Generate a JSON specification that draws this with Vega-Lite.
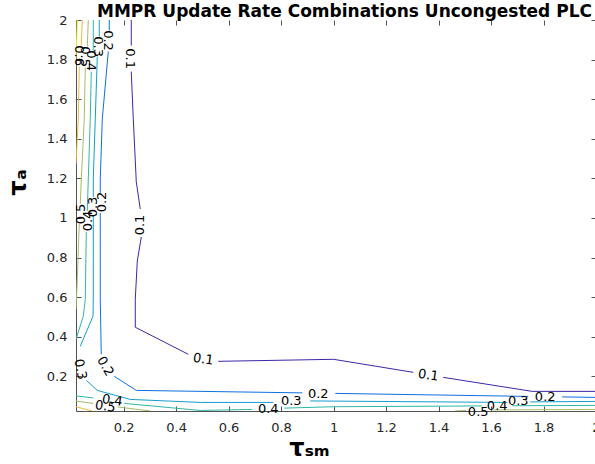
{
  "$schema": "https://vega.github.io/schema/vega-lite/v6.json",
  "width": 520,
  "height": 391,
  "autosize": {"type": "none"},
  "padding": {"left": 76, "top": 20, "right": 0, "bottom": 53},
  "background": "white",
  "view": {"stroke": null},
  "config": {
    "axis": {
      "domainColor": "#262626",
      "tickColor": "#262626",
      "labelColor": "#262626",
      "labelFont": "DejaVu Sans",
      "labelFontSize": 13,
      "grid": false,
      "domainWidth": 0.8,
      "tickWidth": 0.8,
      "labelFlush": false,
      "labelOverlap": false,
      "labelBound": false
    }
  },
  "datasets": {
    "lines": [
      {"s": "1a", "lev": "0.1", "o": 1, "x": 0.2293, "y": 2.0},
      {"s": "1a", "lev": "0.1", "o": 2, "x": 0.2293, "y": 1.8709},
      {"s": "1b", "lev": "0.1", "o": 1, "x": 0.2293, "y": 1.7392},
      {"s": "1b", "lev": "0.1", "o": 2, "x": 0.2370, "y": 1.5013},
      {"s": "1b", "lev": "0.1", "o": 3, "x": 0.2484, "y": 1.1823},
      {"s": "1b", "lev": "0.1", "o": 4, "x": 0.2636, "y": 1.0456},
      {"s": "1c", "lev": "0.1", "o": 1, "x": 0.2674, "y": 0.9038},
      {"s": "1c", "lev": "0.1", "o": 2, "x": 0.2522, "y": 0.7823},
      {"s": "1c", "lev": "0.1", "o": 3, "x": 0.2446, "y": 0.5899},
      {"s": "1c", "lev": "0.1", "o": 4, "x": 0.2446, "y": 0.4481},
      {"s": "1c", "lev": "0.1", "o": 5, "x": 0.4465, "y": 0.3114},
      {"s": "1d", "lev": "0.1", "o": 1, "x": 0.5608, "y": 0.2759},
      {"s": "1d", "lev": "0.1", "o": 2, "x": 1.0, "y": 0.2861},
      {"s": "1d", "lev": "0.1", "o": 3, "x": 1.3036, "y": 0.2203},
      {"s": "1e", "lev": "0.1", "o": 1, "x": 1.4179, "y": 0.1949},
      {"s": "1e", "lev": "0.1", "o": 2, "x": 1.757, "y": 0.1241},
      {"s": "1e", "lev": "0.1", "o": 3, "x": 2.0, "y": 0.1241},
      {"s": "2a", "lev": "0.2", "o": 1, "x": 0.1455, "y": 2.0},
      {"s": "2a", "lev": "0.2", "o": 2, "x": 0.1455, "y": 1.9468},
      {"s": "2b", "lev": "0.2", "o": 1, "x": 0.1417, "y": 1.8405},
      {"s": "2b", "lev": "0.2", "o": 2, "x": 0.1189, "y": 1.5013},
      {"s": "2b", "lev": "0.2", "o": 3, "x": 0.1112, "y": 1.1975},
      {"s": "2b", "lev": "0.2", "o": 4, "x": 0.1112, "y": 1.1266},
      {"s": "2c", "lev": "0.2", "o": 1, "x": 0.1112, "y": 1.0253},
      {"s": "2c", "lev": "0.2", "o": 2, "x": 0.1112, "y": 0.5899},
      {"s": "2c", "lev": "0.2", "o": 3, "x": 0.115, "y": 0.3114},
      {"s": "2d", "lev": "0.2", "o": 1, "x": 0.1646, "y": 0.2},
      {"s": "2d", "lev": "0.2", "o": 2, "x": 0.2484, "y": 0.1291},
      {"s": "2d", "lev": "0.2", "o": 3, "x": 0.8808, "y": 0.1165},
      {"s": "2e", "lev": "0.2", "o": 1, "x": 1.0065, "y": 0.1139},
      {"s": "2e", "lev": "0.2", "o": 2, "x": 1.7418, "y": 0.0987},
      {"s": "2f", "lev": "0.2", "o": 1, "x": 1.8712, "y": 0.0962},
      {"s": "2f", "lev": "0.2", "o": 2, "x": 2.0, "y": 0.0937},
      {"s": "3a", "lev": "0.3", "o": 1, "x": 0.1074, "y": 2.0},
      {"s": "3a", "lev": "0.3", "o": 2, "x": 0.1074, "y": 1.9165},
      {"s": "3b", "lev": "0.3", "o": 1, "x": 0.0998, "y": 1.8152},
      {"s": "3b", "lev": "0.3", "o": 2, "x": 0.0922, "y": 1.5013},
      {"s": "3b", "lev": "0.3", "o": 3, "x": 0.0846, "y": 1.1975},
      {"s": "3b", "lev": "0.3", "o": 4, "x": 0.0846, "y": 1.1063},
      {"s": "3c", "lev": "0.3", "o": 1, "x": 0.0846, "y": 1.0101},
      {"s": "3c", "lev": "0.3", "o": 2, "x": 0.0846, "y": 0.5899},
      {"s": "3c", "lev": "0.3", "o": 3, "x": 0.0834, "y": 0.5038},
      {"s": "3c", "lev": "0.3", "o": 4, "x": 0.035, "y": 0.3519},
      {"s": "3d", "lev": "0.3", "o": 1, "x": 0.0579, "y": 0.1797},
      {"s": "3d", "lev": "0.3", "o": 2, "x": 0.0998, "y": 0.1291},
      {"s": "3d", "lev": "0.3", "o": 3, "x": 0.2255, "y": 0.0835},
      {"s": "3d", "lev": "0.3", "o": 4, "x": 0.4922, "y": 0.0684},
      {"s": "3d", "lev": "0.3", "o": 5, "x": 0.7703, "y": 0.0684},
      {"s": "3e", "lev": "0.3", "o": 1, "x": 0.9112, "y": 0.0759},
      {"s": "3e", "lev": "0.3", "o": 2, "x": 1.6617, "y": 0.0684},
      {"s": "3f", "lev": "0.3", "o": 1, "x": 1.7494, "y": 0.0709},
      {"s": "3f", "lev": "0.3", "o": 2, "x": 2.0, "y": 0.0734},
      {"s": "4a", "lev": "0.4", "o": 1, "x": 0.0846, "y": 2.0},
      {"s": "4a", "lev": "0.4", "o": 2, "x": 0.0846, "y": 1.8456},
      {"s": "4b", "lev": "0.4", "o": 1, "x": 0.077, "y": 1.7392},
      {"s": "4b", "lev": "0.4", "o": 2, "x": 0.0731, "y": 1.5013},
      {"s": "4b", "lev": "0.4", "o": 3, "x": 0.0655, "y": 1.1975},
      {"s": "4b", "lev": "0.4", "o": 4, "x": 0.0617, "y": 1.0354},
      {"s": "4c", "lev": "0.4", "o": 1, "x": 0.0579, "y": 0.9291},
      {"s": "4c", "lev": "0.4", "o": 2, "x": 0.0541, "y": 0.5899},
      {"s": "4c", "lev": "0.4", "o": 3, "x": 0.0465, "y": 0.5038},
      {"s": "4c", "lev": "0.4", "o": 4, "x": 0.0187, "y": 0.3873},
      {"s": "4d", "lev": "0.4", "o": 1, "x": 0.0187, "y": 0.1013},
      {"s": "4d", "lev": "0.4", "o": 2, "x": 0.0846, "y": 0.0911},
      {"s": "4e", "lev": "0.4", "o": 1, "x": 0.2027, "y": 0.0633},
      {"s": "4e", "lev": "0.4", "o": 2, "x": 0.4922, "y": 0.0278},
      {"s": "4e", "lev": "0.4", "o": 3, "x": 0.6903, "y": 0.0329},
      {"s": "4f", "lev": "0.4", "o": 1, "x": 0.8122, "y": 0.0395},
      {"s": "4f", "lev": "0.4", "o": 2, "x": 1.0, "y": 0.0466},
      {"s": "4f", "lev": "0.4", "o": 3, "x": 1.5665, "y": 0.0506},
      {"s": "4g", "lev": "0.4", "o": 1, "x": 1.6808, "y": 0.0516},
      {"s": "4g", "lev": "0.4", "o": 2, "x": 2.0, "y": 0.0532},
      {"s": "5a", "lev": "0.5", "o": 1, "x": 0.0655, "y": 2.0},
      {"s": "5a", "lev": "0.5", "o": 2, "x": 0.0617, "y": 1.8658},
      {"s": "5b", "lev": "0.5", "o": 1, "x": 0.0541, "y": 1.7595},
      {"s": "5b", "lev": "0.5", "o": 2, "x": 0.0503, "y": 1.5013},
      {"s": "5b", "lev": "0.5", "o": 3, "x": 0.0389, "y": 1.1975},
      {"s": "5b", "lev": "0.5", "o": 4, "x": 0.035, "y": 1.0709},
      {"s": "5c", "lev": "0.5", "o": 1, "x": 0.0312, "y": 0.9696},
      {"s": "5c", "lev": "0.5", "o": 2, "x": 0.0236, "y": 0.6911},
      {"s": "5c", "lev": "0.5", "o": 3, "x": 0.0187, "y": 0.5392},
      {"s": "5d", "lev": "0.5", "o": 1, "x": 0.0187, "y": 0.0749},
      {"s": "5d", "lev": "0.5", "o": 2, "x": 0.0846, "y": 0.0633},
      {"s": "5e", "lev": "0.5", "o": 1, "x": 0.176, "y": 0.0456},
      {"s": "5e", "lev": "0.5", "o": 2, "x": 0.3017, "y": 0.0253},
      {"s": "5f", "lev": "0.5", "o": 1, "x": 1.4636, "y": 0.0253},
      {"s": "5f", "lev": "0.5", "o": 2, "x": 1.5055, "y": 0.0278},
      {"s": "5g", "lev": "0.5", "o": 1, "x": 1.597, "y": 0.0304},
      {"s": "5g", "lev": "0.5", "o": 2, "x": 2.0, "y": 0.0329},
      {"s": "6a", "lev": "0.6", "o": 1, "x": 0.0427, "y": 2.0},
      {"s": "6a", "lev": "0.6", "o": 2, "x": 0.0389, "y": 1.8709},
      {"s": "6b", "lev": "0.6", "o": 1, "x": 0.0312, "y": 1.7646},
      {"s": "6b", "lev": "0.6", "o": 2, "x": 0.0274, "y": 1.5013},
      {"s": "6b", "lev": "0.6", "o": 3, "x": 0.0187, "y": 1.2734},
      {"s": "6c", "lev": "0.6", "o": 1, "x": 0.0187, "y": 0.0466},
      {"s": "6c", "lev": "0.6", "o": 2, "x": 0.0796, "y": 0.0253},
      {"s": "7a", "lev": "0.7", "o": 1, "x": 0.0236, "y": 2.0},
      {"s": "7a", "lev": "0.7", "o": 2, "x": 0.0187, "y": 1.8051}
    ],
    "labels": [
      {"g": "up", "lev": "0.1", "x": 0.2255, "y": 1.8051},
      {"g": "up", "lev": "0.2", "x": 0.1417, "y": 1.8962},
      {"g": "up", "lev": "0.3", "x": 0.1036, "y": 1.8658},
      {"g": "up", "lev": "0.4", "x": 0.077, "y": 1.7949},
      {"g": "up", "lev": "0.5", "x": 0.0541, "y": 1.8152},
      {"g": "up", "lev": "0.6", "x": 0.0312, "y": 1.8203},
      {"g": "mid", "lev": "0.1", "x": 0.2636, "y": 0.9646},
      {"g": "mid", "lev": "0.2", "x": 0.1189, "y": 1.081},
      {"g": "mid", "lev": "0.3", "x": 0.0846, "y": 1.0557},
      {"g": "mid", "lev": "0.4", "x": 0.0655, "y": 0.9848},
      {"g": "mid", "lev": "0.5", "x": 0.0389, "y": 1.0203},
      {"g": "b60", "lev": "0.2", "x": 0.1303, "y": 0.2506},
      {"g": "b78", "lev": "0.3", "x": 0.035, "y": 0.2354},
      {"g": "tilt", "lev": "0.1", "x": 0.5036, "y": 0.2861},
      {"g": "tilt", "lev": "0.1", "x": 1.3608, "y": 0.2051},
      {"g": "tilt", "lev": "0.4", "x": 0.157, "y": 0.0785},
      {"g": "tilt", "lev": "0.5", "x": 0.1303, "y": 0.0481},
      {"g": "flat", "lev": "0.2", "x": 0.9417, "y": 0.1089},
      {"g": "flat", "lev": "0.2", "x": 1.8065, "y": 0.0937},
      {"g": "flat", "lev": "0.3", "x": 0.8389, "y": 0.0734},
      {"g": "flat", "lev": "0.3", "x": 1.7037, "y": 0.0734},
      {"g": "flat", "lev": "0.4", "x": 0.7512, "y": 0.0329},
      {"g": "flat", "lev": "0.4", "x": 1.6236, "y": 0.0481},
      {"g": "flat", "lev": "0.5", "x": 1.5512, "y": 0.0177}
    ]
  },
  "resolve": {"axis": {"x": "independent", "y": "independent"}},
  "layer": [
    {
      "data": {"name": "lines"},
      "mark": {"type": "line", "strokeWidth": 1, "clip": true},
      "encoding": {
        "x": {
          "field": "x", "type": "quantitative",
          "scale": {"domain": [0.0187, 2], "nice": false, "zero": false},
          "axis": {
            "orient": "bottom",
            "values": [0.2, 0.4, 0.6, 0.8, 1, 1.2, 1.4, 1.6, 1.8, 2],
            "format": "~g",
            "tickSize": -5,
            "labelPadding": 15,
            "title": "τₛₘ",
            "titleFont": "DejaVu Sans",
            "titleFontSize": 24,
            "titleFontWeight": "bold",
            "titleColor": "#000000",
            "titleX": 233,
            "titleY": 44,
            "titleAlign": "center",
            "titleBaseline": "alphabetic"
          }
        },
        "y": {
          "field": "y", "type": "quantitative",
          "scale": {"domain": [0.025, 2], "nice": false, "zero": false},
          "axis": {
            "orient": "left",
            "values": [0.2, 0.4, 0.6, 0.8, 1, 1.2, 1.4, 1.6, 1.8, 2],
            "format": "~g",
            "tickSize": -5,
            "labelPadding": 14,
            "title": "τₐ",
            "titleFont": "DejaVu Sans",
            "titleFontSize": 24,
            "titleFontWeight": "bold",
            "titleColor": "#000000",
            "titleAngle": -90,
            "titleX": -51,
            "titleY": 162,
            "titleAlign": "center",
            "titleBaseline": "alphabetic"
          }
        },
        "color": {
          "field": "lev", "type": "nominal",
          "scale": {
            "domain": ["0.1", "0.2", "0.3", "0.4", "0.5", "0.6", "0.7"],
            "range": ["#3e26a8", "#0f6fe0", "#149dd0", "#30b7a6", "#a3be6b", "#f0b93a", "#f2e824"]
          },
          "legend": null
        },
        "detail": {"field": "s"},
        "order": {"field": "o", "type": "quantitative"}
      }
    },
    {
      "data": {"name": "labels"},
      "transform": [{"filter": "datum.g === 'up'"}],
      "mark": {"type": "text", "angle": 90, "font": "DejaVu Sans", "fontSize": 13, "color": "#000000", "align": "center", "baseline": "middle"},
      "encoding": {
        "x": {
          "field": "x", "type": "quantitative",
          "scale": {"domain": [0.0187, 2], "nice": false, "zero": false},
          "axis": {
            "orient": "top",
            "values": [0.2, 0.4, 0.6, 0.8, 1, 1.2, 1.4, 1.6, 1.8, 2],
            "tickSize": -5,
            "labels": false,
            "domain": false,
            "title": "MMPR Update Rate Combinations Uncongested PLC",
            "titleFont": "DejaVu Sans",
            "titleFontSize": 17,
            "titleFontWeight": "bold",
            "titleColor": "#000000",
            "titleX": 268,
            "titleY": -4,
            "titleAlign": "center",
            "titleBaseline": "alphabetic"
          }
        },
        "y": {
          "field": "y", "type": "quantitative",
          "scale": {"domain": [0.025, 2], "nice": false, "zero": false},
          "axis": {"orient": "right", "values": [0.2, 0.4, 0.6, 0.8, 1, 1.2, 1.4, 1.6, 1.8, 2], "tickSize": -5, "labels": false, "domain": false, "title": null}
        },
        "text": {"field": "lev", "type": "nominal"}
      }
    },
    {
      "data": {"name": "labels"},
      "transform": [{"filter": "datum.g === 'mid'"}],
      "mark": {"type": "text", "angle": 270, "font": "DejaVu Sans", "fontSize": 13, "color": "#000000", "align": "center", "baseline": "middle"},
      "encoding": {
        "x": {"field": "x", "type": "quantitative", "scale": {"domain": [0.0187, 2], "nice": false, "zero": false}, "axis": null},
        "y": {"field": "y", "type": "quantitative", "scale": {"domain": [0.025, 2], "nice": false, "zero": false}, "axis": null},
        "text": {"field": "lev", "type": "nominal"}
      }
    },
    {
      "data": {"name": "labels"},
      "transform": [{"filter": "datum.g === 'b60'"}],
      "mark": {"type": "text", "angle": 60, "font": "DejaVu Sans", "fontSize": 13, "color": "#000000", "align": "center", "baseline": "middle"},
      "encoding": {
        "x": {"field": "x", "type": "quantitative", "scale": {"domain": [0.0187, 2], "nice": false, "zero": false}, "axis": null},
        "y": {"field": "y", "type": "quantitative", "scale": {"domain": [0.025, 2], "nice": false, "zero": false}, "axis": null},
        "text": {"field": "lev", "type": "nominal"}
      }
    },
    {
      "data": {"name": "labels"},
      "transform": [{"filter": "datum.g === 'b78'"}],
      "mark": {"type": "text", "angle": 78, "font": "DejaVu Sans", "fontSize": 13, "color": "#000000", "align": "center", "baseline": "middle"},
      "encoding": {
        "x": {"field": "x", "type": "quantitative", "scale": {"domain": [0.0187, 2], "nice": false, "zero": false}, "axis": null},
        "y": {"field": "y", "type": "quantitative", "scale": {"domain": [0.025, 2], "nice": false, "zero": false}, "axis": null},
        "text": {"field": "lev", "type": "nominal"}
      }
    },
    {
      "data": {"name": "labels"},
      "transform": [{"filter": "datum.g === 'tilt'"}],
      "mark": {"type": "text", "angle": 8, "font": "DejaVu Sans", "fontSize": 13, "color": "#000000", "align": "center", "baseline": "middle"},
      "encoding": {
        "x": {"field": "x", "type": "quantitative", "scale": {"domain": [0.0187, 2], "nice": false, "zero": false}, "axis": null},
        "y": {"field": "y", "type": "quantitative", "scale": {"domain": [0.025, 2], "nice": false, "zero": false}, "axis": null},
        "text": {"field": "lev", "type": "nominal"}
      }
    },
    {
      "data": {"name": "labels"},
      "transform": [{"filter": "datum.g === 'flat'"}],
      "mark": {"type": "text", "angle": 0, "font": "DejaVu Sans", "fontSize": 13, "color": "#000000", "align": "center", "baseline": "middle"},
      "encoding": {
        "x": {"field": "x", "type": "quantitative", "scale": {"domain": [0.0187, 2], "nice": false, "zero": false}, "axis": null},
        "y": {"field": "y", "type": "quantitative", "scale": {"domain": [0.025, 2], "nice": false, "zero": false}, "axis": null},
        "text": {"field": "lev", "type": "nominal"}
      }
    }
  ]
}
